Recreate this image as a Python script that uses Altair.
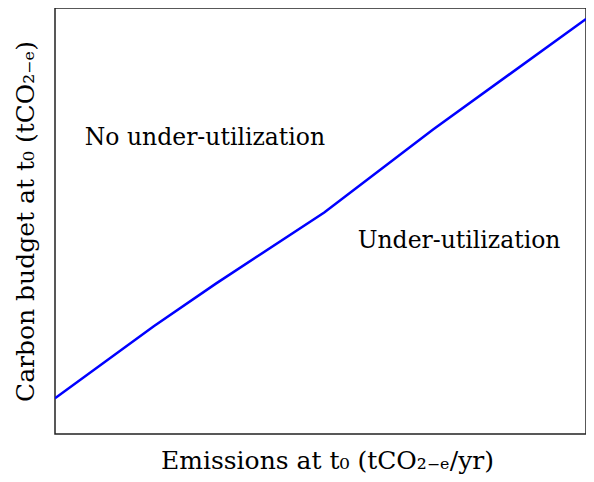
import altair as alt
import pandas as pd

# Line data (normalized units; axes have no ticks)
emissions = [0.0, 0.186, 0.303, 0.507, 0.712, 1.0]
budget = [0.084, 0.253, 0.353, 0.520, 0.715, 0.974]

label_text = ["No under-utilization", "Under-utilization"]
label_x = [0.056, 0.570]
label_y = [0.678, 0.436]

FONT = "DejaVu Serif"

line_df = pd.DataFrame({"e": emissions, "b": budget})
lab_df = pd.DataFrame({"t": label_text, "x": label_x, "y": label_y})

xs = alt.Scale(domain=[0, 1], nice=False, zero=False)
ys = alt.Scale(domain=[0, 1], nice=False, zero=False)

line = alt.Chart(line_df).mark_line(color="#0000ff", strokeWidth=2.5, clip=True).encode(
    x=alt.X("e:Q", scale=xs, axis=alt.Axis(
        title="Emissions at t₀ (tCO₂₋ₑ/yr)", ticks=False, labels=False, grid=False,
        domain=False, titleFont=FONT, titleFontSize=25, titleFontWeight="normal",
        titleColor="black", titleBaseline="alphabetic", titleY=34, titleX=272)),
    y=alt.Y("b:Q", scale=ys, axis=alt.Axis(
        title="Carbon budget at t₀ (tCO₂₋ₑ)", ticks=False, labels=False, grid=False,
        domain=False, titleFont=FONT, titleFontSize=25, titleFontWeight="normal",
        titleColor="black", titleBaseline="alphabetic", titleAngle=-90,
        titleX=-22, titleY=213)),
)

labels = alt.Chart(lab_df).mark_text(
    font=FONT, fontSize=23.5, align="left", baseline="alphabetic", color="black"
).encode(
    x=alt.X("x:Q", scale=xs),
    y=alt.Y("y:Q", scale=ys),
    text="t:N",
)

chart = (line + labels).properties(
    width=531, height=426,
    autosize=alt.AutoSizeParams(type="none"),
    padding={"left": 47, "top": 0, "right": 0, "bottom": 40},
).configure_view(stroke="#222222", strokeWidth=1.5)

chart.save("out.html", embed_options={"renderer": "svg", "actions": False})
